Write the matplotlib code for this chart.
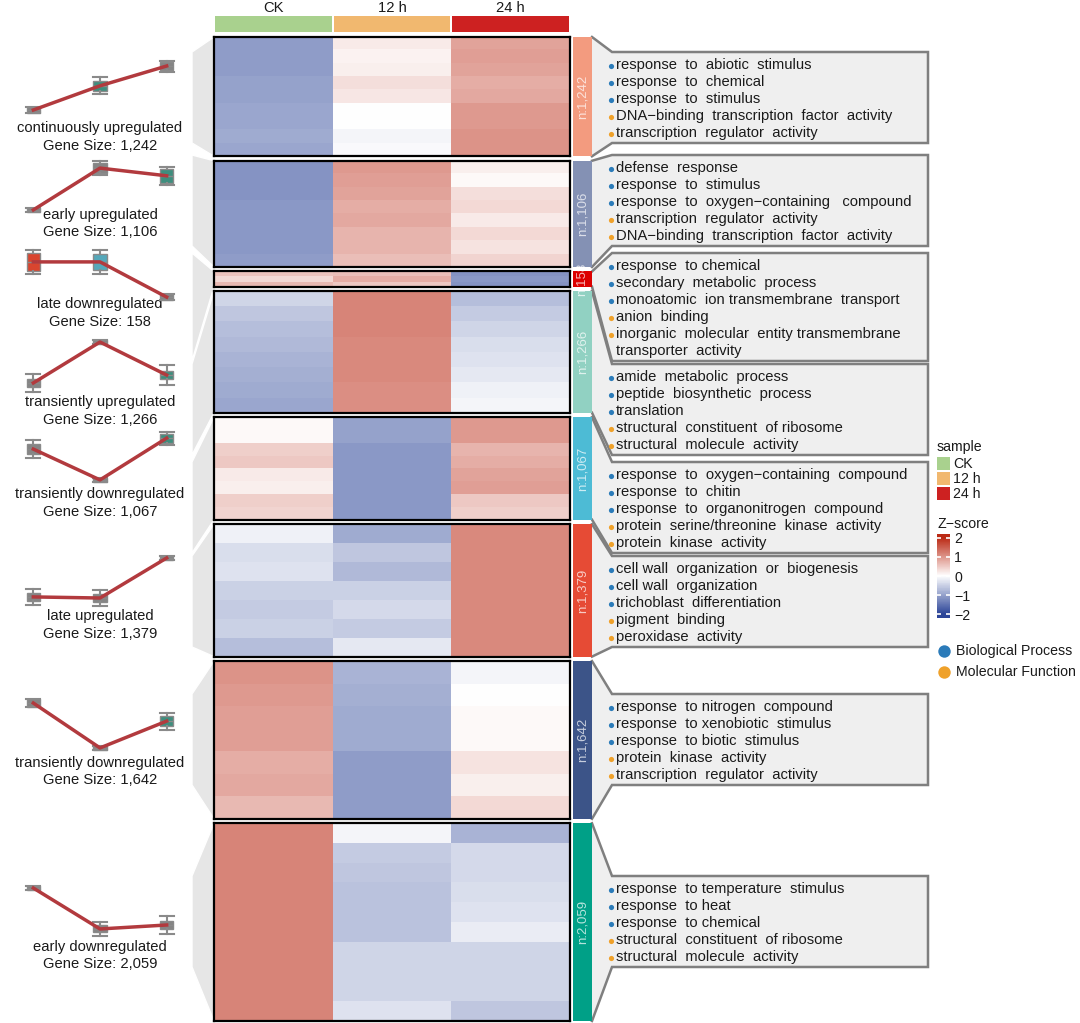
import numpy as np
from matplotlib import pyplot as plt
from matplotlib.colors import LinearSegmentedColormap, Normalize
from matplotlib.patches import Polygon, Rectangle

plt.rcParams['font.family'] = ['Liberation Sans', 'DejaVu Sans']

W, H = 1080, 1023

samples = ['CK', '12 h', '24 h']
sample_colors = ['#A9D18E', '#F1B86F', '#CD2121']

cluster_names = ['continuously upregulated', 'early upregulated', 'late downregulated',
                 'transiently upregulated', 'transiently downregulated', 'late upregulated',
                 'transiently downregulated', 'early downregulated']
gene_sizes = [1242, 1106, 158, 1266, 1067, 1379, 1642, 2059]
cluster_colors = ['#F39B7F', '#8491B4', '#DC0000', '#91D1C2', '#4DBBD5', '#E64B35', '#3C5488', '#00A087']

# z-score bands per cluster (CK, 12 h, 24 h)
heat_rows = [
    [[-1.05, 0.2, 0.85], [-1.05, 0.12, 0.9], [-1.05, 0.15, 0.85], [-1.0, 0.3, 0.75], [-1.0, 0.22, 0.8],
     [-0.95, 0.0, 0.95], [-0.95, 0.0, 0.95], [-0.9, -0.1, 1.0], [-0.95, -0.05, 1.0]],
    [[-1.15, 0.95, 0.15], [-1.15, 0.9, 0.05], [-1.15, 0.85, 0.3], [-1.1, 0.75, 0.35], [-1.1, 0.8, 0.2],
     [-1.1, 0.7, 0.35], [-1.1, 0.7, 0.25], [-1.05, 0.6, 0.4]],
    [[0.55, 0.6, -1.15], [0.35, 0.75, -1.1], [0.65, 0.5, -1.15]],
    [[-0.45, 1.15, -0.7], [-0.6, 1.15, -0.55], [-0.7, 1.15, -0.45], [-0.75, 1.1, -0.35], [-0.8, 1.1, -0.3],
     [-0.85, 1.1, -0.25], [-0.9, 1.05, -0.15], [-0.95, 1.05, -0.1]],
    [[0.05, -1.0, 0.95], [0.05, -1.0, 0.95], [0.45, -1.1, 0.7], [0.5, -1.1, 0.75], [0.2, -1.1, 0.85],
     [0.15, -1.1, 0.9], [0.45, -1.1, 0.5], [0.4, -1.1, 0.45]],
    [[-0.15, -0.9, 1.1], [-0.35, -0.6, 1.1], [-0.3, -0.75, 1.1], [-0.5, -0.5, 1.1], [-0.55, -0.4, 1.1],
     [-0.5, -0.55, 1.1], [-0.7, -0.25, 1.1]],
    [[1.0, -0.8, -0.1], [0.95, -0.85, 0.0], [0.9, -0.9, 0.05], [0.9, -0.9, 0.05], [0.75, -1.05, 0.25],
     [0.8, -1.05, 0.15], [0.65, -1.05, 0.35]],
    [[1.15, -0.1, -0.8], [1.15, -0.55, -0.4], [1.15, -0.6, -0.4], [1.15, -0.65, -0.35], [1.15, -0.65, -0.3],
     [1.15, -0.65, -0.2], [1.15, -0.45, -0.45], [1.15, -0.45, -0.45], [1.15, -0.45, -0.45], [1.15, -0.3, -0.6]],
]

# trend panels: mean, box half height, whisker half length
trend_means = [[-1.0, 0.1, 1.0], [-0.95, 0.95, 0.6], [0.8, 0.8, -0.8], [-0.93, 0.93, -0.57],
               [0.45, -0.95, 0.95], [-0.86, -0.91, 0.91], [1.02, -1.02, 0.2], [0.93, -0.93, -0.75]]
trend_box = [[0.15, 0.23, 0.2], [0.1, 0.23, 0.32], [0.4, 0.36, 0.12], [0.18, 0.08, 0.2],
             [0.23, 0.1, 0.2], [0.2, 0.2, 0.08], [0.18, 0.08, 0.23], [0.08, 0.16, 0.16]]
trend_whisk = [[0.15, 0.39, 0.25], [0.1, 0.32, 0.41], [0.55, 0.55, 0.12], [0.4, 0.08, 0.45],
               [0.4, 0.1, 0.3], [0.36, 0.36, 0.08], [0.2, 0.08, 0.39], [0.08, 0.32, 0.41]]
gr, tl, rd, cy = '#858585', '#3E8E7E', '#D9452F', '#55A8BA'
trend_box_colors = [[gr, tl, gr], [gr, gr, tl], [rd, cy, gr], [gr, gr, tl],
                    [gr, gr, tl], [gr, gr, gr], [gr, gr, tl], [gr, gr, gr]]

go_terms = [
    [('response  to  abiotic  stimulus', 'BP'), ('response  to  chemical', 'BP'), ('response  to  stimulus', 'BP'),
     ('DNA\u2212binding  transcription  factor  activity', 'MF'), ('transcription  regulator  activity', 'MF')],
    [('defense  response', 'BP'), ('response  to  stimulus', 'BP'),
     ('response  to  oxygen\u2212containing   compound', 'BP'), ('transcription  regulator  activity', 'MF'),
     ('DNA\u2212binding  transcription  factor  activity', 'MF')],
    [('response  to chemical', 'BP'), ('secondary  metabolic  process', 'BP'),
     ('monoatomic  ion transmembrane  transport', 'BP'), ('anion  binding', 'MF'),
     ('inorganic  molecular  entity transmembrane', 'MF'), ('transporter  activity', '')],
    [('amide  metabolic  process', 'BP'), ('peptide  biosynthetic  process', 'BP'), ('translation', 'BP'),
     ('structural  constituent  of ribosome', 'MF'), ('structural  molecule  activity', 'MF')],
    [('response  to  oxygen\u2212containing  compound', 'BP'), ('response  to  chitin', 'BP'),
     ('response  to  organonitrogen  compound', 'BP'), ('protein  serine/threonine  kinase  activity', 'MF'),
     ('protein  kinase  activity', 'MF')],
    [('cell wall  organization  or  biogenesis', 'BP'), ('cell wall  organization', 'BP'),
     ('trichoblast  differentiation', 'BP'), ('pigment  binding', 'MF'), ('peroxidase  activity', 'MF')],
    [('response  to nitrogen  compound', 'BP'), ('response  to xenobiotic  stimulus', 'BP'),
     ('response  to biotic  stimulus', 'BP'), ('protein  kinase  activity', 'MF'),
     ('transcription  regulator  activity', 'MF')],
    [('response  to temperature  stimulus', 'BP'), ('response  to heat', 'BP'), ('response  to chemical', 'BP'),
     ('structural  constituent  of ribosome', 'MF'), ('structural  molecule  activity', 'MF')],
]
go_colors = {'BP': '#2B7BB9', 'MF': '#EFA12A'}

# layout (pixels)
hm_x0, hm_x1, hm_top, hm_bottom, gap = 214, 570, 37, 1021, 4.5
bar_x0, bar_x1 = 573, 592
box_x0, box_x1 = 612, 928
box_tops = [52, 155, 253, 364, 462, 556, 694, 876]
panel_centers = [88, 189, 279.5, 362.5, 459, 578, 725.5, 908.5]
label_y = [128, 215, 304, 402, 494, 616, 763, 947]
fs = 10.6
fs_leg = 10.2

cmap = LinearSegmentedColormap.from_list('z', ['#2C4598', '#FFFFFF', '#BB2A15'])

fig = plt.figure(figsize=(W / 100, H / 100), dpi=100)
bg = fig.add_axes([0, 0, 1, 1])
bg.set_xlim(0, W)
bg.set_ylim(H, 0)
bg.axis('off')


def px_axes(x0, y0, x1, y1):
    return fig.add_axes([x0 / W, 1 - y1 / H, (x1 - x0) / W, (y1 - y0) / H])


scale = (hm_bottom - hm_top - gap * (len(gene_sizes) - 1)) / sum(gene_sizes)
tops, bottoms = [], []
y = hm_top
for s in gene_sizes:
    tops.append(y)
    bottoms.append(y + s * scale)
    y += s * scale + gap

# header
cw = (hm_x1 - hm_x0) / 3
for j in range(3):
    bg.add_patch(Rectangle((hm_x0 + j * cw + 1, 16), cw - 2, 16, color=sample_colors[j], lw=0))
    bg.text(hm_x0 + (j + 0.5) * cw, 8, samples[j], ha='center', va='center', fontsize=fs, color='#1a1a1a')

for i in range(len(gene_sizes)):
    ct, cb = tops[i], bottoms[i]
    n_lines = len(go_terms[i])
    bt = box_tops[i]
    bb = bt + 13 + (n_lines - 1) * 17 + 10

    # left link
    bg.add_patch(Polygon([(hm_x0, ct), (192, bt), (192, bb), (hm_x0, cb)], closed=True,
                         facecolor='#E6E6E6', edgecolor='white', lw=1))
    # right link + text box
    pts = [(bar_x1, ct), (box_x0, bt), (box_x1, bt), (box_x1, bb), (box_x0, bb), (bar_x1, cb)]
    bg.add_patch(Polygon(pts, closed=True, facecolor='#EFEFEF', edgecolor='none'))
    bg.plot([p[0] for p in pts], [p[1] for p in pts], color='#7F7F7F', lw=1.8, solid_joinstyle='miter')
    for k, (term, kind) in enumerate(go_terms[i]):
        ty = bt + 13 + k * 17
        if kind:
            bg.scatter([box_x0 - 1], [ty + 0.5], s=14, color=go_colors[kind], zorder=5, lw=0)
        bg.text(box_x0 + 4, ty, term, ha='left', va='center', fontsize=fs, color='#1a1a1a')

    # heatmap block
    ax = px_axes(hm_x0, ct, hm_x1, cb)
    ax.imshow(np.array(heat_rows[i]), cmap=cmap, vmin=-2, vmax=2, aspect='auto', interpolation='nearest')
    ax.set_xticks([])
    ax.set_yticks([])
    for sp in ax.spines.values():
        sp.set_linewidth(1.6)
        sp.set_color('black')

    # cluster bar
    ab = px_axes(bar_x0, ct, bar_x1, cb)
    ab.set_facecolor(cluster_colors[i])
    ab.set_xticks([])
    ab.set_yticks([])
    for sp in ab.spines.values():
        sp.set_visible(False)

    # trend panel
    c = panel_centers[i]
    tp = px_axes(0, c - 44, 200, c + 44)
    tp.set_xlim(-0.5, 2.5)
    tp.set_ylim(-2, 2)
    tp.axis('off')
    stats = [dict(med=m, q1=m - b, q3=m + b, whislo=m - w, whishi=m + w)
             for m, b, w in zip(trend_means[i], trend_box[i], trend_whisk[i])]
    bp = tp.bxp(stats, positions=[0, 1, 2], widths=0.2, capwidths=0.21, patch_artist=True, showfliers=False,
                boxprops=dict(edgecolor='#8A8A8A', lw=1),
                whiskerprops=dict(color='#8A8A8A', lw=1.5),
                capprops=dict(color='#8A8A8A', lw=1.5),
                medianprops=dict(color='#8A8A8A', lw=1))
    for patch, col in zip(bp['boxes'], trend_box_colors[i]):
        patch.set_facecolor(col)
    tp.plot([0, 1, 2], trend_means[i], color='#B23A3E', lw=2.5, zorder=5)

    bg.text(100, label_y[i], cluster_names[i], ha='center', va='center', fontsize=fs, color='#1a1a1a')
    bg.text(100, label_y[i] + 17.5, f'Gene Size: {gene_sizes[i]:,}', ha='center', va='center',
            fontsize=fs, color='#1a1a1a')

# cluster size labels on top of everything
for i in range(len(gene_sizes)):
    mid = (tops[i] + bottoms[i]) / 2
    fig.text((bar_x0 + bar_x1) / 2 / W, 1 - mid / H, f'n:{gene_sizes[i]:,}', rotation=90,
             ha='center', va='center', fontsize=9.5, color='white', alpha=0.72)

# legends
bg.text(937, 447, 'sample', ha='left', va='center', fontsize=fs_leg, color='#1a1a1a')
for j in range(3):
    bg.add_patch(Rectangle((937, 457 + j * 15), 13, 13, color=sample_colors[j], lw=0))
    bg.text(953, 464 + j * 15, samples[j], ha='left', va='center', fontsize=fs_leg, color='#1a1a1a')

bg.text(937, 524, 'Z\u2212score', ha='left', va='center', fontsize=fs_leg, color='#1a1a1a')
cax = px_axes(937, 534, 950, 618)
zz = np.linspace(-2.2, 2.2, 200)
cax.pcolormesh([0, 1], zz, zz[:-1].reshape(-1, 1), cmap=cmap, norm=Normalize(-2, 2), shading='flat')
cax.set_xlim(0, 1)
cax.set_ylim(-2.2, 2.2)
cax.set_xticks([])
cax.yaxis.tick_right()
cax.set_yticks([-2, -1, 0, 1, 2])
cax.set_yticklabels(['\u22122', '\u22121', '0', '1', '2'])
cax.tick_params(axis='y', direction='in', colors='white', length=3, width=1.2, left=True, right=True,
                labelsize=fs_leg, labelcolor='#1a1a1a', pad=3)
for sp in cax.spines.values():
    sp.set_visible(False)

for k, (name, kind) in enumerate([('Biological Process', 'BP'), ('Molecular Function', 'MF')]):
    bg.scatter([944], [651 + k * 21], s=80, color=go_colors[kind], lw=0)
    bg.text(956, 651 + k * 21, name, ha='left', va='center', fontsize=fs_leg, color='#1a1a1a')

plt.savefig('out.png', dpi=100)
